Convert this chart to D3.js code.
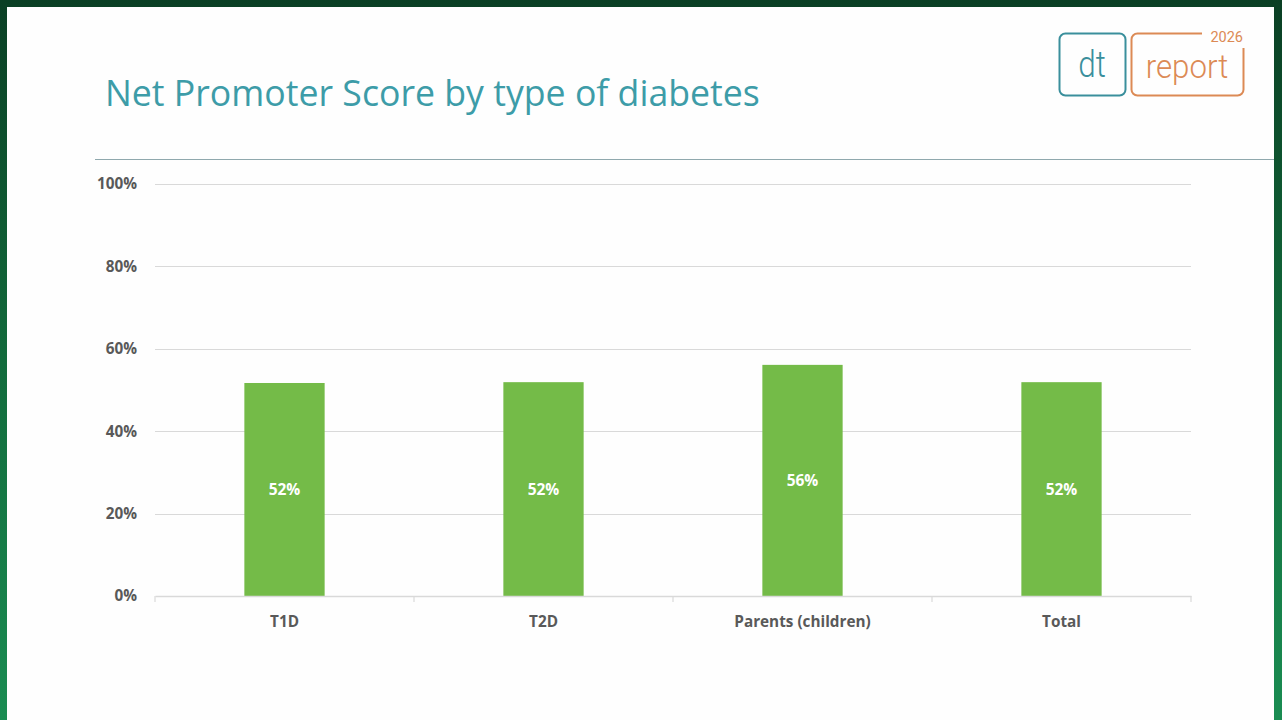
<!DOCTYPE html>
<html><head><meta charset="utf-8">
<script src="https://cdn.jsdelivr.net/npm/d3@7/dist/d3.min.js"></script>
<style>html,body{margin:0;padding:0;overflow:hidden;background:#0b4a2c}</style>
</head><body>
<svg id="c" width="1282" height="720"></svg>
<script>
const categories = ["T1D", "T2D", "Parents (children)", "Total"];
const values = [51.7, 51.9, 56.1, 51.9];
const valueLabels = ["52%", "52%", "56%", "52%"];
const yTicks = [0, 20, 40, 60, 80, 100];
const title = "Net Promoter Score by type of diabetes";

(function(){
const svg = d3.select("#c");
const defs = svg.append("defs");
const g1 = defs.append("linearGradient").attr("id","bg").attr("x1",0).attr("y1",0).attr("x2",0).attr("y2",1);
g1.append("stop").attr("offset","0%").attr("stop-color","#0a3f24");
g1.append("stop").attr("offset","50%").attr("stop-color","#126b3c");
g1.append("stop").attr("offset","100%").attr("stop-color","#1a8c52");
svg.append("rect").attr("width",1282).attr("height",720).attr("fill","url(#bg)");
svg.append("rect").attr("x",7).attr("y",7).attr("width",1267).attr("height",713).attr("fill","#fefefe");

// title
const t = svg.append("text").attr("x",105).attr("y",106).attr("fill","#3d9ca8")
  .attr("font-family","Open Sans, Noto Sans, sans-serif").attr("font-size",34).text(title);
const tw = t.node().getComputedTextLength();
t.attr("font-size", 34 * 655 / tw);
svg.append("line").attr("x1",95).attr("x2",1274).attr("y1",159.5).attr("y2",159.5).attr("stroke","#8fa8ad").attr("stroke-width",1.2);

// logo
const lg = svg.append("g");
lg.append("rect").attr("x",1059.5).attr("y",33.5).attr("width",66).attr("height",62).attr("rx",6).attr("fill","none").attr("stroke","#3a8f9c").attr("stroke-width",2);
lg.append("text").attr("transform","translate(1092,77) scale(0.85,1)").attr("text-anchor","middle").attr("fill","#3a8f9c")
  .attr("font-family","Roboto, sans-serif").attr("font-weight",300).attr("font-size",37).text("dt");
lg.append("path").attr("d","M1202,33.5 H1137.5 a6,6 0 0 0 -6,6 V89.5 a6,6 0 0 0 6,6 H1237.5 a6,6 0 0 0 6,-6 V48")
  .attr("fill","none").attr("stroke","#dc8a55").attr("stroke-width",2);
lg.append("text").attr("transform","translate(1187,78) scale(0.92,1)").attr("text-anchor","middle").attr("fill","#dc8a55")
  .attr("font-family","Roboto, sans-serif").attr("font-weight",300).attr("font-size",34).text("report");
lg.append("text").attr("x",1243).attr("y",42).attr("text-anchor","end").attr("fill","#dc8a55")
  .attr("font-family","Roboto, sans-serif").attr("font-size",14.5).text("2026");

// chart
const pl = 155, pr = 1191, pt = 184, pb = 596;
const x = d3.scaleBand().domain(categories).range([pl, pr]).paddingInner(0.69).paddingOuter(0.345);
const y = d3.scaleLinear().domain([0, 100]).range([pb, pt]);
const band = d3.scaleBand().domain(categories).range([pl, pr]);

const grid = svg.append("g");
grid.selectAll("line").data(yTicks.filter(d=>d>0)).join("line")
  .attr("x1",pl).attr("x2",pr).attr("y1",d=>Math.round(y(d))+0.5).attr("y2",d=>Math.round(y(d))+0.5)
  .attr("stroke","#d9d9d9").attr("stroke-width",1);

const ya = svg.append("g").attr("transform",`translate(${pl},0)`)
  .call(d3.axisLeft(y).tickValues(yTicks).tickFormat(d=>d+"%").tickSize(0).tickPadding(18));
ya.select(".domain").remove();
ya.selectAll("text").attr("font-family","Open Sans, sans-serif").attr("font-weight",700).attr("font-size",15.3).attr("fill","#595959");

svg.append("g").selectAll("rect").data(categories).join("rect")
  .attr("x",(d)=>x(d)).attr("width",x.bandwidth())
  .attr("y",(d,i)=>y(values[i])).attr("height",(d,i)=>pb-y(values[i]))
  .attr("fill","#74bb48");

svg.append("g").selectAll("text").data(categories).join("text")
  .attr("x",d=>x(d)+x.bandwidth()/2).attr("y",(d,i)=>(y(values[i])+pb)/2+6)
  .attr("text-anchor","middle").attr("font-family","Open Sans, sans-serif").attr("font-weight",700)
  .attr("font-size",15.5).attr("fill","#ffffff").text((d,i)=>valueLabels[i]);

// x axis
const xa = svg.append("g").attr("transform",`translate(0,${pb})`)
  .call(d3.axisBottom(band).tickSize(0).tickPadding(20));
xa.select(".domain").attr("stroke","#d9d9d9").attr("stroke-width",1.5);
xa.selectAll("text").attr("font-family","Open Sans, sans-serif").attr("font-weight",700).attr("font-size",15.3).attr("fill","#595959");
const sep = categories.map(c=>band(c)).concat([pr]);
svg.append("g").selectAll("line").data(sep).join("line")
  .attr("x1",d=>d).attr("x2",d=>d).attr("y1",pb).attr("y2",pb+6)
  .attr("stroke","#d9d9d9").attr("stroke-width",1.2);
})();
</script>
</body></html>
